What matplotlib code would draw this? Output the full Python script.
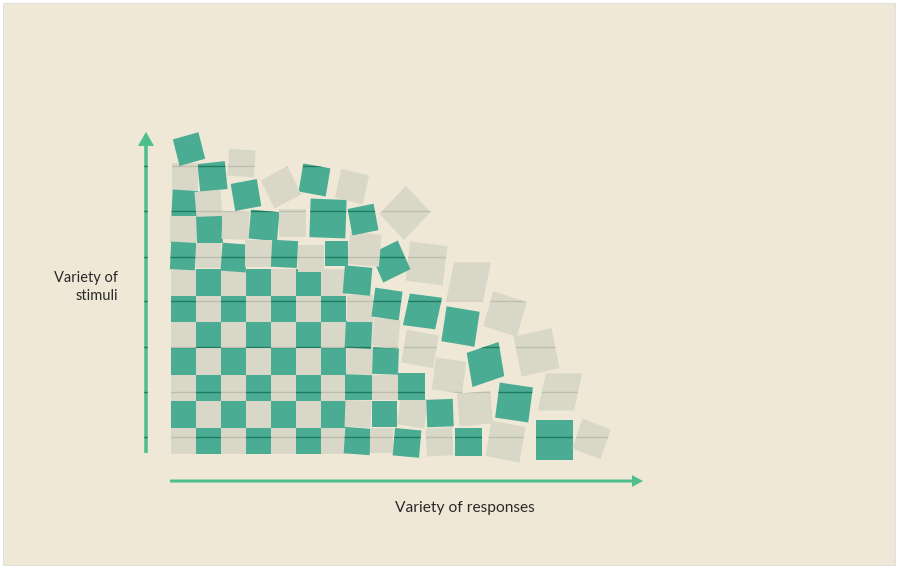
import matplotlib
matplotlib.use("Agg")
import matplotlib.pyplot as plt
from matplotlib.patches import Rectangle, Polygon, FancyArrow
from matplotlib.transforms import Affine2D

# ---------------- palette ----------------
BG = "#efe8d7"
TEAL = "#4aad93"
GRAY = "#d9d8c8"
ARROW = "#4cbf8c"
LINE_ON_TEAL = "#217a5e"
LINE_ON_GRAY = "#bcbeb0"

# ---------------- data ----------------
# regular checkerboard block (columns x rows), cell units
regular_cols = 7
regular_rows = 7

# displaced / rotated tiles: centre x, centre y (cell units), width, height,
# rotation (deg), skew (deg), colour ("T" teal, "G" grey)
tile_x = [7.46, 7.48, 7.50, 7.54, 7.50, 7.54, 7.46,
          8.42, 8.54, 8.56, 8.58, 8.60, 8.64,
          9.44, 9.66, 9.62, 9.96, 10.06,
          10.74, 10.76, 11.12, 11.58, 11.90,
          11.90, 12.16, 12.58, 13.36,
          13.38, 13.72, 14.62,
          15.34, 15.56, 16.82,
          10.22, 8.78, 7.74, 6.60, 9.36, 7.68, 6.28,
          7.24, 5.74, 4.40, 3.00, 2.82, 1.66, 0.56, 0.72,
          0.56, 1.50, 0.48, 1.54, 2.58, 3.72, 4.86,
          0.48, 1.48, 2.52, 3.50, 4.54, 5.60]
tile_y = [0.49, 1.52, 2.54, 3.50, 4.51, 5.51, 6.57,
          0.51, 1.52, 2.52, 3.52, 4.58, 5.68,
          0.42, 1.59, 2.56, 3.98, 5.40,
          0.46, 1.55, 2.97, 4.83, 6.52,
          0.46, 1.72, 3.39, 5.30,
          0.47, 1.95, 3.85,
          0.53, 2.35, 0.57,
          7.22, 7.29, 7.75, 7.60, 9.13, 8.88, 8.92,
          10.13, 10.38, 10.10, 9.81, 11.02, 10.51, 10.51, 11.55,
          9.49, 9.47, 8.50, 8.49, 8.66, 8.66, 8.75,
          7.50, 7.52, 7.44, 7.58, 7.58, 7.41]
tile_w = [1.04, 1.04, 1.06, 1.04, 1.06, 1.04, 1.10,
          0.94, 1.00, 1.02, 1.04, 1.06, 1.10,
          1.06, 1.10, 1.06, 1.30, 1.30,
          1.06, 1.06, 1.22, 1.34, 1.48,
          1.06, 1.34, 1.34, 1.40,
          1.38, 1.34, 1.55,
          1.48, 1.45, 1.20,
          1.50, 1.20, 1.26, 0.92, 1.50, 1.06, 1.44,
          1.14, 1.10, 1.20, 1.06, 1.06, 1.10, 1.04, 1.06,
          1.04, 1.04, 1.04, 1.04, 1.08, 1.14, 1.08,
          1.00, 1.00, 1.00, 1.08, 1.04, 1.04]
tile_h = [1.00, 1.02, 1.02, 1.00, 1.02, 1.00, 1.06,
          0.98, 0.98, 0.98, 1.00, 1.06, 1.10,
          1.04, 1.10, 1.02, 1.26, 1.22,
          1.06, 1.04, 1.22, 1.34, 1.48,
          1.04, 1.24, 1.30, 1.38,
          1.36, 1.34, 1.55,
          1.52, 1.40, 1.20,
          1.50, 1.20, 1.22, 0.94, 1.40, 1.02, 1.46,
          1.12, 1.08, 1.20, 1.04, 1.02, 1.06, 1.00, 1.04,
          1.00, 1.00, 1.00, 1.02, 1.06, 1.10, 1.04,
          1.04, 0.98, 1.06, 1.02, 1.02, 1.02]
tile_angle = [-4, -2, 0, -2, -3, 0, -5,
              0, 0, 0, -2, -6, -8,
              -5, -8, 0, -10, -7,
              3, 2, -8, -9, 0,
              0, 5, 18, -17,
              -10, -8, 12,
              0, 0, -20,
              -7, 25, -5, 0, 45, 11, -2,
              -13, -10, 27, 10, -4, 6, 0, 15,
              -3, 5, 0, 2, -2, -5, 0,
              -3, 0, -4, 0, -3, 0]
tile_skew = [0, 0, 0, 0, 0, 0, 0,
             0, 0, 0, 0, 0, 0,
             0, 0, 0, 0, 6,
             0, 0, 0, 0, 12,
             0, 0, 8, 0,
             0, 0, 0,
             0, 13, 0,
             0, 0, 0, 0, 0, 0, 0,
             0, 0, 0, 0, 0, 0, 0, 0,
             0, 0, 0, 0, 0, 0, 0,
             0, 0, 0, 0, 0, 0]
tile_color = ["T", "G", "T", "G", "T", "G", "T",
              "G", "T", "G", "T", "G", "T",
              "T", "G", "T", "G", "T",
              "G", "T", "G", "T", "G",
              "T", "G", "T", "G",
              "G", "T", "G",
              "T", "G", "G",
              "G", "T", "G", "T", "G", "T", "T",
              "G", "T", "G", "T", "G", "T", "G", "T",
              "T", "G", "G", "T", "G", "T", "G",
              "T", "G", "T", "G", "T", "G"]

# faint horizontal rules that show through the tiles (cell units)
rule_levels = [0.644, 2.348, 4.053, 5.795, 7.481, 9.205, 10.909]

x_label = "Variety of responses"
y_label = "Variety of\nstimuli"

# ---------------- figure ----------------
W, H = 899, 569
fig = plt.figure(figsize=(W / 100, H / 100), dpi=100)
fig.patch.set_facecolor("white")
fig.patches.append(Rectangle((3 / W, 4 / H), 892 / W, 562 / H,
                             transform=fig.transFigure, facecolor=BG,
                             edgecolor="#dcdcdc", lw=0.6, zorder=-5))

ax = fig.add_axes([0, 0, 1, 1])
ax.patch.set_visible(False)
ax.axis("off")
# 1 cell = 25 px horizontally, 26.4 px vertically; origin at px (171, 454)
ax.set_xlim(-171 / 25, (W - 171) / 25)
ax.set_ylim((454 - H) / 26.4, 454 / 26.4)

COLORS = {"T": TEAL, "G": GRAY}
LINECOL = {"T": LINE_ON_TEAL, "G": LINE_ON_GRAY}


def add_tile(cx, cy, w, h, ang, sk, c, z):
    tr = Affine2D().skew_deg(sk, 0).rotate_deg(ang).translate(cx, cy) + ax.transData
    corners = [(-w / 2, -h / 2), (w / 2, -h / 2), (w / 2, h / 2), (-w / 2, h / 2)]
    p = Polygon(corners, closed=True, transform=tr, facecolor=COLORS[c],
                edgecolor="none", zorder=z)
    ax.add_patch(p)
    reach = max(w, h) * 0.75
    for lev in rule_levels:
        if abs(lev - cy) < reach:
            ln, = ax.plot([cx - reach - 0.3, cx + reach + 0.3], [lev, lev],
                          color=LINECOL[c], lw=1.0, zorder=z + 0.005,
                          solid_capstyle="butt")
            ln.set_clip_path(p)
    return p


z = 2.0
for r in range(regular_rows):
    for cidx in range(regular_cols):
        col = "T" if (r + cidx) % 2 else "G"
        add_tile(cidx + 0.5, r + 0.5, 1.0, 1.0, 0, 0, col, z)
        z += 0.01

for i in range(len(tile_x)):
    add_tile(tile_x[i], tile_y[i], tile_w[i], tile_h[i], tile_angle[i],
             tile_skew[i], tile_color[i], z)
    z += 0.01

# ---------------- axes arrows ----------------
va = FancyArrow(-1.0, 0.04, 0, 12.16, width=0.14, head_width=0.64,
                head_length=0.53, length_includes_head=True,
                color=ARROW, lw=0, zorder=2)
ax.add_patch(va)
for lev in rule_levels:
    ln, = ax.plot([-1.5, -0.5], [lev, lev], color=LINE_ON_TEAL, lw=1.0, zorder=2.1)
    ln.set_clip_path(va)

ha = FancyArrow(-0.04, -1.023, 18.92, 0, width=0.114, head_width=0.45,
                head_length=0.44, length_includes_head=True,
                color=ARROW, lw=0, zorder=2)
ax.add_patch(ha)

# ---------------- labels ----------------
fig.text(465 / W, 1 - 508 / H, x_label, ha="center", va="center",
         fontsize=11.2, family="Lato", color="#2a2a2a")
fig.text(118 / W, 1 - 287 / H, y_label, ha="right", va="center",
         multialignment="right", fontsize=10.5, family="Lato",
         color="#2a2a2a", linespacing=1.45)

fig.savefig("out.png", dpi=100, facecolor=fig.get_facecolor())
